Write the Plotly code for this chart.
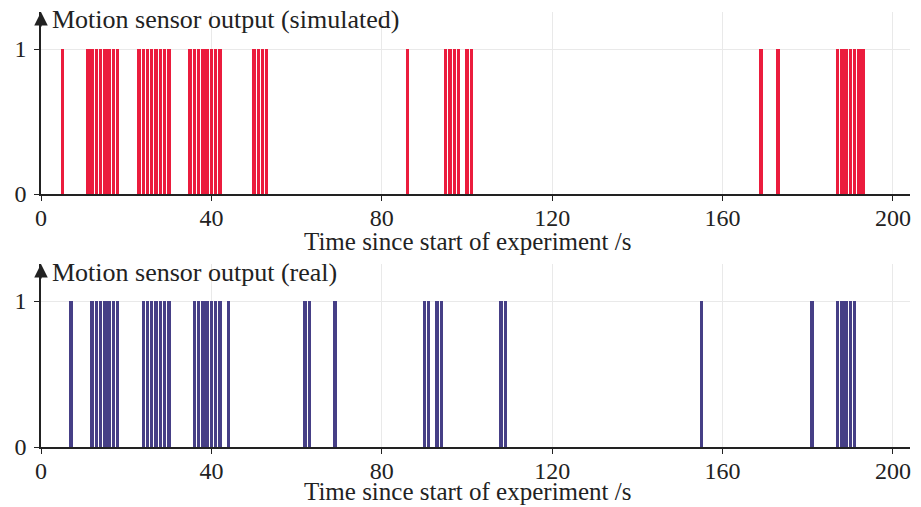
import plotly.graph_objects as go
from plotly.subplots import make_subplots

# Data: seconds at which the sensor output was 1
sim_times = [5, 11, 12, 13, 14, 15, 16, 17, 18, 23, 24, 25, 26, 27, 28, 29, 30,
             35, 36, 37, 38, 39, 40, 41, 42, 50, 51, 52, 53, 86, 95, 96, 97, 98,
             100, 101, 169, 173, 187, 188, 189, 190, 191, 192, 193]
sim_values = [1] * len(sim_times)
real_times = [7, 12, 13, 14, 15, 16, 17, 18, 24, 25, 26, 27, 28, 29, 30,
              36, 37, 38, 39, 40, 41, 42, 44, 62, 63, 69, 90, 91, 93, 94,
              108, 109, 155, 181, 187, 188, 189, 190, 191]
real_values = [1] * len(real_times)
x_ticks = [0, 40, 80, 120, 160, 200]
y_ticks = [0, 1]
titles = ["Motion sensor output (simulated)", "Motion sensor output (real)"]
xlabel = "Time since start of experiment /s"

RED = "#EB1C3D"
BLUE = "#463F86"
INK = "#222222"
FONT = "Liberation Serif"
FS = 26
XFS = 25
TFS = 24
W, H = 921, 507
L, R = 41, 11
PW = W - L - R
XMAX = 204

def px(x):
    return (x - L) / PW

def py(y):
    return 1 - y / H

fig = make_subplots(rows=2, cols=1)
fig.add_trace(go.Bar(x=sim_times, y=sim_values, width=0.8, marker_color=RED,
                     marker_line_width=0), row=1, col=1)
fig.add_trace(go.Bar(x=real_times, y=real_values, width=0.8, marker_color=BLUE,
                     marker_line_width=0), row=2, col=1)

axis_common = dict(showline=True, linecolor=INK, linewidth=1.5, automargin=False,
                   showgrid=True, gridcolor="#e9e9e9", gridwidth=1,
                   zeroline=False, ticks="outside", tickcolor=INK,
                   ticklen=5, tickwidth=1.2,
                   tickfont=dict(family=FONT, size=TFS, color=INK))

# pixel layout of each panel: (top of y axis, y=1 line, y=0 line, title centre, xlabel centre)
panels = [(12, 49, 194, 20, 241), (264, 301, 447, 272, 491)]
for i, (ytop, y1, y0, _, _) in enumerate(panels, start=1):
    unit = y0 - y1
    ymax = (y0 - ytop) / unit
    fig.update_xaxes(range=[0, XMAX], tickvals=x_ticks, domain=[0, 1],
                     ticklabelstandoff=-4, **axis_common, row=i, col=1)
    fig.update_yaxes(range=[0, ymax], tickvals=y_ticks, domain=[py(y0), py(ytop)],
                     ticklabelstandoff=3, **axis_common, row=i, col=1)

anns = []
for i, (ytop, y1, y0, ttl_y, xl_y) in enumerate(panels):
    xr = "x" if i == 0 else "x2"
    yr = "y" if i == 0 else "y2"
    ymax = (y0 - ytop) / (y0 - y1)
    # y-axis arrow head
    anns.append(dict(x=0, y=ymax, xref=xr, yref=yr, ax=0, ay=16, showarrow=True,
                     arrowhead=2, arrowsize=1.8, arrowwidth=1.5, arrowcolor=INK, text=""))
    # x-axis arrow head
    anns.append(dict(x=XMAX + 4, y=0, xref=xr, yref=yr, ax=-18, ay=0, showarrow=True,
                     arrowhead=2, arrowsize=1.8, arrowwidth=1.5, arrowcolor=INK, text=""))
    anns.append(dict(x=px(50), y=py(ttl_y), xref="paper", yref="paper", text=titles[i],
                     showarrow=False, xanchor="left", yanchor="middle",
                     font=dict(family=FONT, size=FS, color=INK)))
    anns.append(dict(x=px(468), y=py(xl_y), xref="paper", yref="paper", text=xlabel,
                     showarrow=False, xanchor="center", yanchor="middle",
                     font=dict(family=FONT, size=XFS, color=INK)))

fig.update_layout(width=W, height=H, margin=dict(l=L, r=R, t=0, b=0, autoexpand=False),
                  plot_bgcolor="white", paper_bgcolor="white", showlegend=False,
                  bargap=0, annotations=anns)
fig.write_html("out.html")
